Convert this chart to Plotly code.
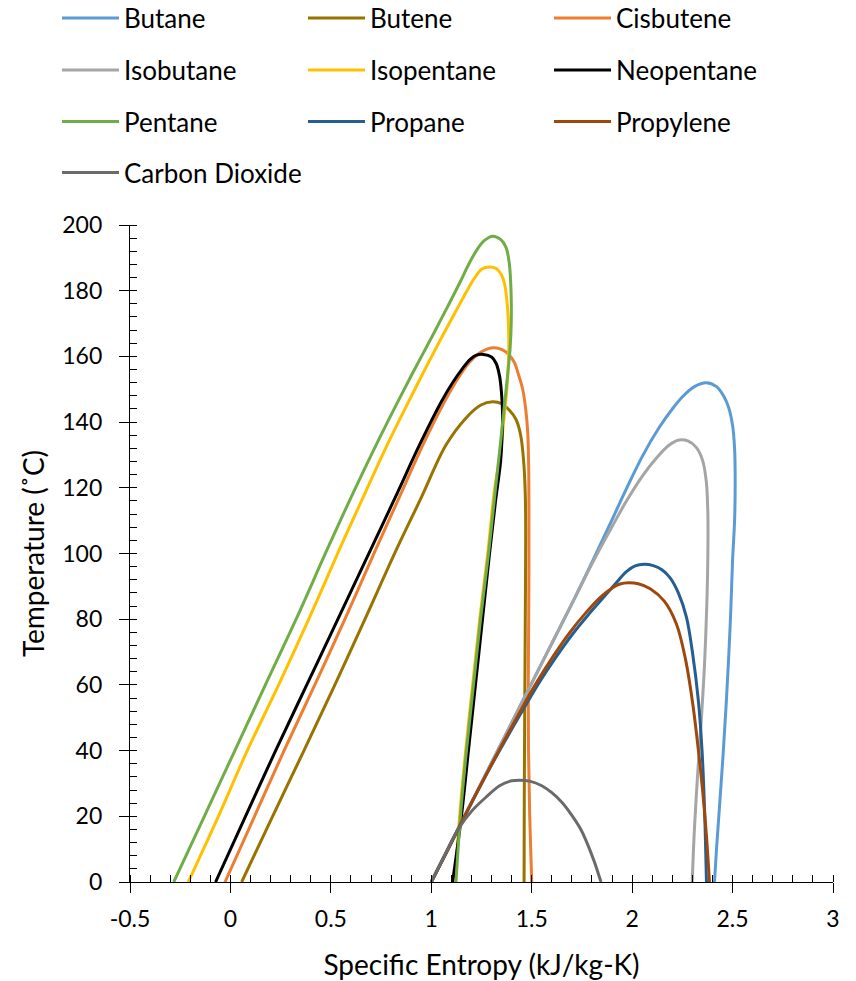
import plotly.graph_objects as go

# ---------------- data ----------------
butane_s = [1.0, 1.08, 1.156, 1.30, 1.455, 1.58, 1.704, 1.804, 1.89, 1.97, 2.05, 2.136, 2.20, 2.252, 2.31, 2.369, 2.42, 2.455, 2.48, 2.50, 2.51, 2.513, 2.51, 2.50, 2.488, 2.469, 2.452, 2.435, 2.42, 2.41]
butane_t = [0, 9.7, 18.9, 36.3, 55.1, 70.2, 85.2, 97.8, 109, 119.5, 129.5, 138.5, 144, 147.8, 150.8, 152.0, 150.8, 148, 144.5, 139, 132, 122, 110, 98, 78, 55, 38, 23, 10, 0]

butene_s = [0.056, 0.21, 0.366, 0.52, 0.67, 0.825, 0.95, 1.073, 1.172, 1.247, 1.305, 1.35, 1.39, 1.422, 1.445, 1.46, 1.468, 1.47, 1.469, 1.467, 1.465, 1.463, 1.462]
butene_t = [0, 20, 40, 60, 80, 101, 117, 133, 141.2, 145.2, 146.2, 145.6, 143.5, 140.8, 136, 128, 118, 105, 90, 70, 50, 25, 0]

cisbutene_s = [-0.027, 0.12, 0.267, 0.42, 0.57, 0.722, 0.84, 0.962, 1.067, 1.135, 1.19, 1.24, 1.305, 1.355, 1.388, 1.415, 1.43, 1.455, 1.47, 1.48, 1.485, 1.486, 1.486, 1.485, 1.483, 1.484, 1.49, 1.50]
cisbutene_t = [0, 20, 40, 60, 80, 101, 117, 133.5, 146.3, 153.5, 158.2, 161, 162.6, 162, 160.4, 158, 155.3, 150, 144, 137, 126, 110, 95, 80, 60, 40, 20, 0]

isobutane_s = [1.0, 1.08, 1.156, 1.30, 1.455, 1.58, 1.704, 1.804, 1.903, 1.97, 2.05, 2.12, 2.18, 2.228, 2.28, 2.319, 2.35, 2.369, 2.377, 2.377, 2.372, 2.36, 2.345, 2.327, 2.31, 2.299]
isobutane_t = [0, 9.7, 18.9, 36.3, 55.1, 70.2, 85.2, 97.3, 108.5, 115.8, 123.5, 129, 132.8, 134.5, 134.2, 132.3, 128.5, 122, 112, 100, 85, 65.8, 50, 33.7, 16, 0]

isopentane_s = [-0.21, -0.06, 0.084, 0.24, 0.39, 0.541, 0.66, 0.78, 0.91, 0.985, 1.058, 1.12, 1.175, 1.215, 1.252, 1.29, 1.322, 1.348, 1.365, 1.378, 1.385, 1.385, 1.376, 1.36, 1.343, 1.316, 1.281, 1.241, 1.206, 1.171, 1.141, 1.119]
isopentane_t = [0, 20, 40, 60, 80, 101, 117, 133, 149, 158, 166.5, 173.5, 179.7, 183.8, 186.6, 187.2, 186.8, 185, 182, 176, 168, 160, 150, 140, 130, 120, 100, 80, 60, 40, 20, 0]

neopentane_s = [-0.074, 0.075, 0.225, 0.38, 0.535, 0.697, 0.82, 0.945, 1.05, 1.105, 1.155, 1.195, 1.225, 1.26, 1.30, 1.322, 1.34, 1.35, 1.355, 1.352, 1.345, 1.32, 1.29, 1.255, 1.22, 1.185, 1.15, 1.106]
neopentane_t = [0, 20, 40, 60, 80, 101, 117, 133.5, 146.2, 151.9, 156.3, 159.2, 160.4, 160.6, 159.8, 158, 154, 148.5, 142, 135, 128, 116, 100, 80, 60, 40, 20, 0]

pentane_s = [-0.282, -0.13, 0.022, 0.174, 0.327, 0.48, 0.60, 0.725, 0.84, 0.925, 1.008, 1.08, 1.145, 1.19, 1.232, 1.265, 1.305, 1.345, 1.372, 1.388, 1.397, 1.398, 1.392, 1.38, 1.364, 1.347, 1.32, 1.285, 1.245, 1.21, 1.175, 1.145, 1.123]
pentane_t = [0, 20, 40, 60, 80, 101, 117, 133, 147, 157, 166.5, 175, 182.8, 188.5, 192.9, 195.3, 196.6, 195.6, 193.2, 188.5, 180, 170, 162, 154.3, 145, 135, 120, 100, 80, 60, 40, 20, 0]

propane_s = [1.0, 1.08, 1.156, 1.30, 1.46, 1.54, 1.62, 1.70, 1.78, 1.86, 1.92, 1.97, 2.015, 2.06, 2.105, 2.15, 2.19, 2.23, 2.27, 2.30, 2.33, 2.348, 2.36, 2.37]
propane_t = [0, 9.5, 18.8, 35.6, 52.8, 61, 68.4, 75.2, 81.2, 86.8, 91, 94.4, 96.2, 96.7, 96.3, 95, 92.5, 88, 80.7, 70, 55, 40, 23, 0]

propylene_s = [1.0, 1.08, 1.156, 1.30, 1.455, 1.53, 1.61, 1.69, 1.77, 1.84, 1.903, 1.94, 1.98, 2.03, 2.09, 2.16, 2.22, 2.265, 2.30, 2.33, 2.35, 2.37, 2.385]
propylene_t = [0, 9.5, 18.8, 35.8, 53.3, 61.3, 69, 76, 82, 86.6, 89.6, 90.7, 91.1, 90.8, 89.3, 85.5, 78.6, 68, 55, 40, 28.4, 14, 0]

co2_s = [1.0, 1.065, 1.13, 1.20, 1.272, 1.34, 1.40, 1.44, 1.49, 1.55, 1.60, 1.65, 1.70, 1.74, 1.77, 1.81, 1.845]
co2_t = [0, 8, 15.7, 21.5, 25.8, 29.3, 30.8, 31.0, 30.7, 29.3, 27.2, 24.3, 20.3, 16.5, 12.7, 6.5, 0]

names = ["Butane", "Butene", "Cisbutene", "Isobutane", "Isopentane",
         "Neopentane", "Pentane", "Propane", "Propylene", "Carbon Dioxide"]
colors = ["#5B9BD5", "#997300", "#ED7D31", "#A5A5A5", "#FFC000",
          "#000000", "#70AD47", "#255E91", "#9E480E", "#6A6A6A"]
xs = [butane_s, butene_s, cisbutene_s, isobutane_s, isopentane_s,
      neopentane_s, pentane_s, propane_s, propylene_s, co2_s]
ys = [butane_t, butene_t, cisbutene_t, isobutane_t, isopentane_t,
      neopentane_t, pentane_t, propane_t, propylene_t, co2_t]
legend_ids = ["legend", "legend", "legend", "legend2", "legend2",
              "legend2", "legend3", "legend3", "legend3", "legend4"]

x_ticks = [-0.5, 0, 0.5, 1, 1.5, 2, 2.5, 3]
x_ticktext = ["-0.5", "0", "0.5", "1", "1.5", "2", "2.5", "3"]
y_ticks = [0, 20, 40, 60, 80, 100, 120, 140, 160, 180, 200]

FONT = "Lato, 'Open Sans', sans-serif"

fig = go.Figure()
for n, c, x, y, lg in zip(names, colors, xs, ys, legend_ids):
    fig.add_trace(go.Scatter(
        x=x, y=y, name=n, mode="lines",
        line=dict(color=c, width=3, shape="spline", smoothing=1.0),
        legend=lg, showlegend=True,
    ))

W, H = 856, 981
ml, mr, mt, mb = 130, 23, 225, 99
ph = H - mt - mb
pw = W - ml - mr

def ly(py):
    return (H - mb - py) / ph

def lx(px):
    return (px - ml) / pw

leg_common = dict(orientation="h", xanchor="left", yanchor="middle",
                  font=dict(family=FONT, size=26, color="#000000"),
                  entrywidth=174, entrywidthmode="pixels",
                  bgcolor="rgba(0,0,0,0)", itemwidth=57, traceorder="normal")

fig.update_layout(
    width=W, height=H,
    margin=dict(l=ml, r=mr, t=mt, b=mb, autoexpand=False),
    paper_bgcolor="white", plot_bgcolor="white",
    font=dict(family=FONT, size=22, color="#000000"),
    legend=dict(x=lx(57), y=ly(18), **leg_common),
    legend2=dict(x=lx(57), y=ly(70), **leg_common),
    legend3=dict(x=lx(57), y=ly(121.5), **leg_common),
    legend4=dict(x=lx(57), y=ly(172.5), **leg_common),
    xaxis=dict(
        range=[-0.5, 3], tickvals=x_ticks, ticktext=x_ticktext,
        showgrid=False, zeroline=False,
        showline=True, linecolor="#000000", linewidth=1.3,
        ticks="outside", ticklen=10, tickwidth=1.3, tickcolor="#000000",
        ticklabelstandoff=6,
        minor=dict(ticks="inside", ticklen=7, dtick=0.1, tickcolor="#000000", tickwidth=1, showgrid=False),
        tickfont=dict(family=FONT, size=23, color="#000000"),
        title=dict(text="Specific Entropy (kJ/kg-K)", standoff=24,
                   font=dict(family=FONT, size=28, color="#000000")),
    ),
    yaxis=dict(
        range=[0, 200], tickvals=y_ticks,
        showgrid=False, zeroline=False,
        showline=True, linecolor="#000000", linewidth=1.3,
        ticks="outside", ticklen=10, tickwidth=1.3, tickcolor="#000000",
        ticklabelstandoff=12,
        minor=dict(ticks="inside", ticklen=7, dtick=4, tickcolor="#000000", tickwidth=1, showgrid=False),
        tickfont=dict(family=FONT, size=23, color="#000000"),
        title=dict(text="Temperature (˚C)", standoff=9,
                   font=dict(family=FONT, size=28, color="#000000")),
    ),
)

fig.write_html("out.html")
